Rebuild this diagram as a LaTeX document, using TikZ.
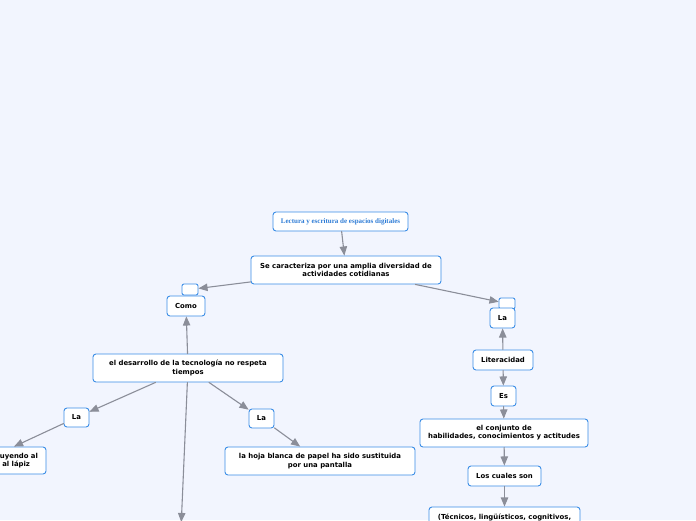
\documentclass[tikz,border=0pt]{standalone}
\usepackage{fontspec}
\setsansfont{DejaVu Sans}
\newfontfamily\titlefont{Liberation Serif}
\usepackage{tikz}
\usetikzlibrary{arrows}
\definecolor{fondo}{rgb}{0.949,0.961,0.996}
\definecolor{borde}{rgb}{0.227,0.553,0.902}
\definecolor{linea}{rgb}{0.545,0.557,0.600}
\definecolor{titulo}{rgb}{0.180,0.486,0.839}

\begin{document}
\begin{tikzpicture}[line cap=round,line join=round,>=triangle 45,x=1pt,y=-1pt,
	caja/.style={draw=borde,fill=white,line width=0.9pt,rounded corners=3pt,inner sep=2pt,align=center,font=\sffamily\bfseries\fontsize{6.9}{8.2}\selectfont,text=black},
	pestana/.style={draw=borde,fill=white,line width=0.9pt,rounded corners=2pt,minimum width=16,minimum height=11,inner sep=0pt},
	enlace/.style={->,draw=linea,color=linea,line width=1.1pt}]
			\useasboundingbox (0,0) rectangle (696,520);
			\clip (0,0) rectangle (696,520);
			\fill[fondo] (0,0) rectangle (696,520);
			% nodos
			\node[caja,minimum width=135,minimum height=19,font=\titlefont\bfseries\fontsize{7}{8}\selectfont,text=titulo] (titulo) at (340.5,221.5) {Lectura y escritura de espacios digitales};
			\node[caja,minimum width=190,minimum height=28] (caract) at (346,270) {Se caracteriza por una amplia diversidad de\\actividades cotidianas};
			\node[pestana] (tabIzq) at (190,289.5) {};
			\node[caja,minimum width=38,minimum height=20] (como) at (186,306) {Como};
			\node[caja,minimum width=190,minimum height=28] (desarrollo) at (188,368) {el desarrollo de la tecnología no respeta\\tiempos};
			\node[caja,minimum width=25,minimum height=19] (laIzq) at (76.5,417.5) {La};
			\node[caja,minimum width=124,minimum height=27,text width=108,align=right] (lapiz) at (-16,460.5) {uyendo al\\al lápiz\hspace*{8pt}};
			\node[caja,minimum width=25,minimum height=19] (laCen) at (261.5,418.5) {La};
			\node[caja,minimum width=190,minimum height=28] (hoja) at (320,461) {la hoja blanca de papel ha sido sustituida\\por una pantalla};
			\coordinate (abajo) at (181.3,522);
			\node[pestana] (tabDer) at (507,303.5) {};
			\node[caja,minimum width=25,minimum height=20] (laDer) at (502.5,318) {La};
			\node[caja,minimum width=60,minimum height=20] (literacidad) at (503,360) {Literacidad};
			\node[caja,minimum width=25,minimum height=20] (es) at (503.5,396) {Es};
			\node[caja,minimum width=168,minimum height=28] (conjunto) at (504,433) {el conjunto de\\habilidades, conocimientos y actitudes};
			\node[caja,minimum width=73,minimum height=20] (cuales) at (504.5,476) {Los cuales son};
			\node[caja,minimum width=151,minimum height=28] (tecnicos) at (504.5,521) {(Técnicos, lingüísticos, cognitivos,\\\phantom{x}};
			% conectores
			\draw [enlace] (titulo) -- (caract);
			\draw [enlace] (caract) -- (tabIzq);
			\draw [enlace] (caract) -- (tabDer);
			\draw [enlace] (desarrollo) -- (como);
			\draw [enlace] (desarrollo) -- (laIzq);
			\draw [enlace] (laIzq) -- (lapiz);
			\draw [enlace] (desarrollo) -- (laCen);
			\draw [enlace] (laCen) -- (hoja);
			\draw [enlace] (desarrollo) -- (abajo);
			\draw [enlace] (literacidad) -- (laDer);
			\draw [enlace] (literacidad) -- (es);
			\draw [enlace] (es) -- (conjunto);
			\draw [enlace] (conjunto) -- (cuales);
			\draw [enlace] (cuales) -- (tecnicos);
			\end{tikzpicture}
\end{document}
